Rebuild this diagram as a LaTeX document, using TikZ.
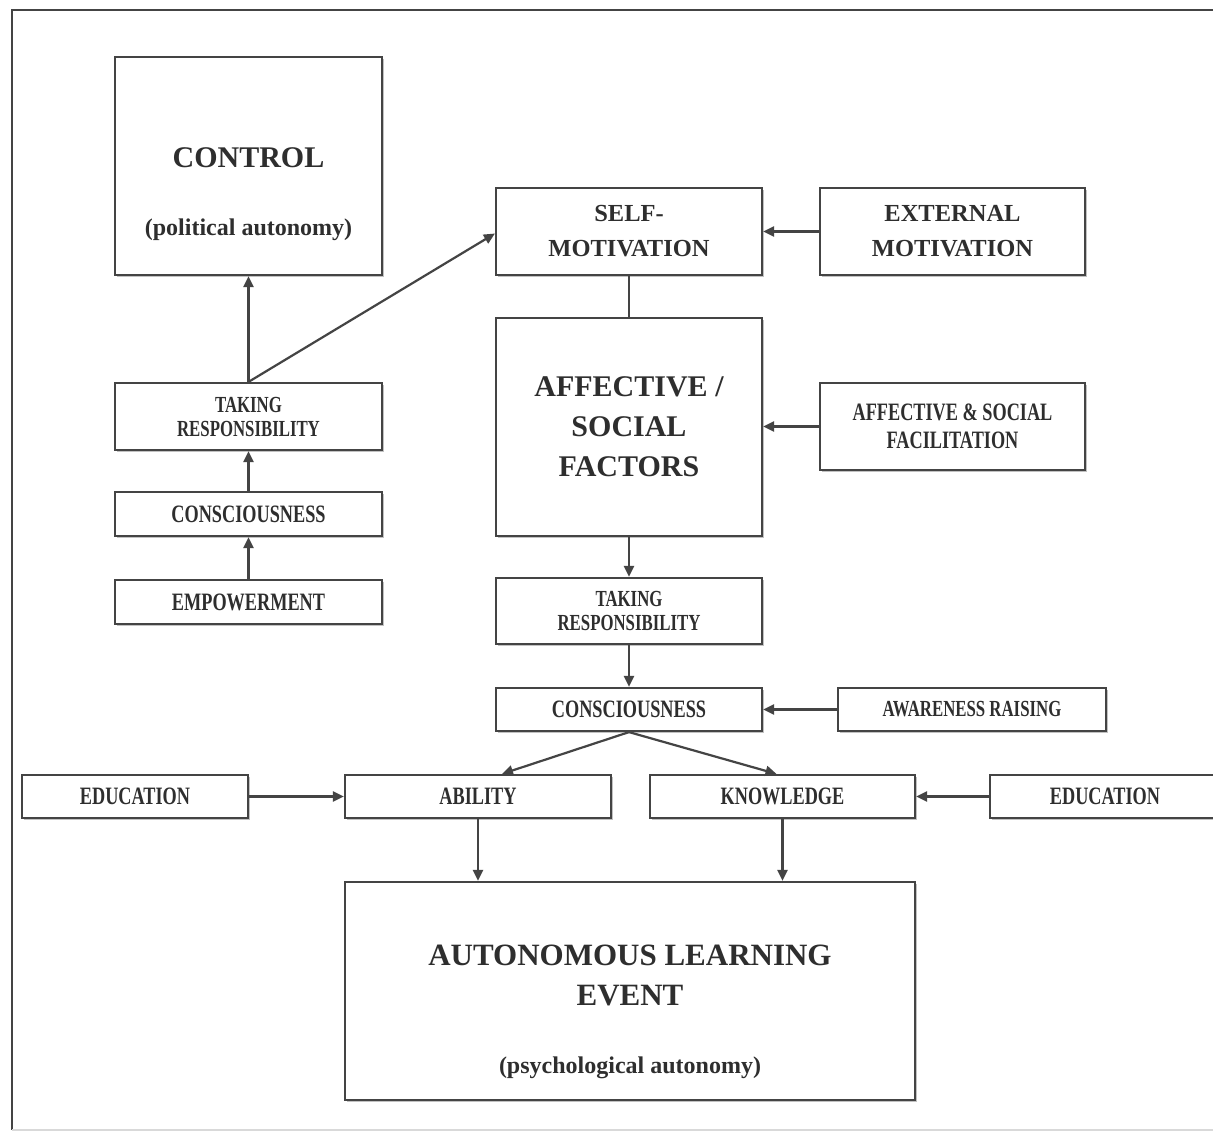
\documentclass[tikz,border=0pt]{standalone}
\usepackage{fontspec}
\setmainfont{Liberation Serif}
\newfontfamily\condfont[FakeStretch=0.73]{Liberation Serif}
\usetikzlibrary{arrows.meta,shadows,calc}

\definecolor{ink}{HTML}{2E2E2E}
\definecolor{edge}{HTML}{444444}

\tikzset{
  box/.style={draw=edge, line width=2.2pt, fill=white, text=ink, align=center,
    inner sep=0pt,
    drop shadow={shadow xshift=1.5pt, shadow yshift=-2pt, fill=black!30, opacity=0.8}},
  bigtext/.style={font=\bfseries\fontsize{30}{40}\selectfont},
  midtext/.style={font=\bfseries\fontsize{24.5}{35}\selectfont},
  smalltext/.style={font=\condfont\bfseries\fontsize{25}{28}\selectfont},
  tinytext/.style={font=\condfont\bfseries\fontsize{23}{24}\selectfont},
  plain/.style={text=ink, inner sep=0pt},
  link/.style={draw=edge, line width=2.2pt},
  arr/.style={link, -{Triangle[length=11pt,width=10pt]}},
}

\begin{document}
\begin{tikzpicture}[x=1pt, y=-1pt]
  \useasboundingbox (0,0) rectangle (1213,1133);
  \fill[white] (0,0) rectangle (1213,1133);

  % outer frame (open to the right)
  \draw[draw=edge, line width=2.4pt] (1230,10) -- (12,10) -- (12,1130);
  \draw[draw=black!15, line width=2pt] (12,1130) -- (1230,1130);

  % left column
  \node[box, minimum width=267, minimum height=218] (ctrl) at (248.5,166) {};
  \node[plain, font=\bfseries\fontsize{30}{30}\selectfont] (ctrltitle) at (248.5,158) {CONTROL};
  \node[plain, font=\bfseries\fontsize{24}{24}\selectfont] (ctrlsub) at (248.5,230) {(political autonomy)};
  \node[box, tinytext, minimum width=267, minimum height=67] (takeL) at (248.5,416.5) {TAKING\\RESPONSIBILITY};
  \node[box, smalltext, minimum width=267, minimum height=44] (consL) at (248.5,514) {CONSCIOUSNESS};
  \node[box, smalltext, minimum width=267, minimum height=44] (empw) at (248.5,602) {EMPOWERMENT};

  % centre column
  \node[box, midtext, minimum width=266, minimum height=87] (selfm) at (629,231.5) {SELF-\\MOTIVATION};
  \node[box, bigtext, minimum width=266, minimum height=218] (aff) at (629,427) {AFFECTIVE /\\SOCIAL\\FACTORS};
  \node[box, tinytext, minimum width=266, minimum height=66] (takeC) at (629,611) {TAKING\\RESPONSIBILITY};
  \node[box, smalltext, minimum width=266, minimum height=43] (consC) at (629,709.5) {CONSCIOUSNESS};

  % right column
  \node[box, midtext, minimum width=265, minimum height=87] (extm) at (952.5,231.5) {EXTERNAL\\MOTIVATION};
  \node[box, smalltext, minimum width=265, minimum height=87] (affsoc) at (952.5,426.5) {AFFECTIVE \& SOCIAL\\FACILITATION};
  \node[box, tinytext, minimum width=268, minimum height=43] (aware) at (972,709.5) {AWARENESS RAISING};

  % bottom row
  \node[box, smalltext, minimum width=226, minimum height=43] (eduL) at (135,796.5) {EDUCATION};
  \node[box, smalltext, minimum width=266, minimum height=43] (abil) at (478,796.5) {ABILITY};
  \node[box, smalltext, minimum width=265, minimum height=43] (know) at (782.5,796.5) {KNOWLEDGE};
  \node[box, smalltext, minimum width=230, minimum height=43] (eduR) at (1105,796.5) {EDUCATION};

  % outcome
  \node[box, minimum width=570, minimum height=218] (auto) at (630,991) {};
  \node[plain, align=center, font=\bfseries\fontsize{31}{40}\selectfont] (autotitle) at (630,975) {AUTONOMOUS LEARNING\\EVENT};
  \node[plain, font=\bfseries\fontsize{24}{24}\selectfont] (autosub) at (630,1068) {(psychological autonomy)};

  % connectors, left column
  \draw[arr] (empw.north) -- (consL.south);
  \draw[arr] (consL.north) -- (takeL.south);
  \draw[arr] (takeL.north) -- (ctrl.south);
  \draw[arr] (takeL.north) -- ($(selfm.west)+(0,2)$);

  % connectors, centre column
  \draw[link] (selfm.south) -- (aff.north);
  \draw[arr] (extm.west) -- (selfm.east);
  \draw[arr] (affsoc.west) -- (aff.east |- affsoc.west);
  \draw[arr] (aff.south) -- (takeC.north);
  \draw[arr] (takeC.south) -- (consC.north);
  \draw[arr] (aware.west) -- (consC.east);
  \draw[arr] (consC.south) -- ($(abil.north)+(24,0)$);
  \draw[arr] (consC.south) -- ($(know.north)+(-6,0)$);

  % connectors, bottom row
  \draw[arr] (eduL.east) -- (abil.west);
  \draw[arr] (eduR.west) -- (know.east);
  \draw[arr] (abil.south) -- (abil.south |- auto.north);
  \draw[arr] (know.south) -- (know.south |- auto.north);
\end{tikzpicture}
\end{document}
